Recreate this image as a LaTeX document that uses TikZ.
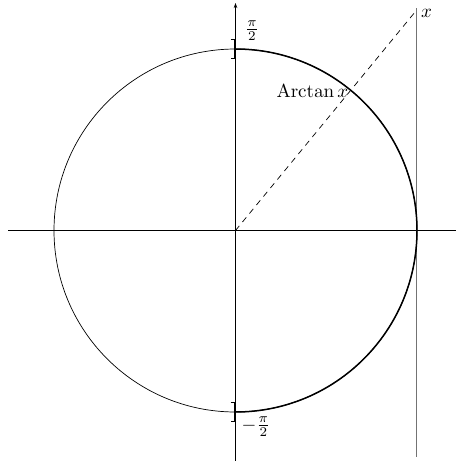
\documentclass[tikz,border=0pt]{standalone}
\usetikzlibrary{arrows.meta,calc}
\begin{document}
\begin{tikzpicture}[x=1pt,y=-1pt,
  thinline/.style={line width=0.7pt},
  thickline/.style={line width=1.5pt},
  bracket/.style={line width=1.8pt},
  lbl/.style={scale=1.9,inner sep=0pt}]
\useasboundingbox (0,0) rectangle (456,461);
\coordinate (O) at (235.5,230.5);
\coordinate (L) at (8,230.5);
\coordinate (R) at (456,230.5);
\coordinate (B) at (235.5,461);
\coordinate (T) at (235.5,3);
\coordinate (G1) at (416.7,8);
\coordinate (G2) at (416.7,457);
\coordinate (D) at (416.7,10);
\coordinate (Ctop) at (235.5,49);
% axes
\draw[thinline] (L) -- (R);
\draw[thinline,-{Stealth[length=5pt,width=3.5pt]}] (B) -- (T);
% vertical gray line x=1
\draw[line width=1.5pt,black!55] (G1) -- (G2);
% circle
\draw[thinline] (O) circle[radius=181.5];
\draw[thickline] (Ctop) arc[start angle=-90,end angle=90,radius=181.5];
% dashed ray
\draw[thinline,dash pattern=on 6pt off 5pt] (O) -- (D);
% brackets
\draw[bracket] (230.5,39.5) -- (235,39.5) -- (235,58.5) -- (230.5,58.5);
\draw[bracket] (230.5,402.5) -- (235,402.5) -- (235,421.5) -- (230.5,421.5);
% labels
\node[lbl] (pihalf) at (252,31) {$\frac{\pi}{2}$};
\node[lbl] (mpihalf) at (256,427) {$-\frac{\pi}{2}$};
\node[lbl,anchor=east] (arct) at (348.5,91.5) {$\mathrm{Arctan}\,x$};
\node[lbl] (xl) at (426.5,13) {$x$};
\end{tikzpicture}
\end{document}
